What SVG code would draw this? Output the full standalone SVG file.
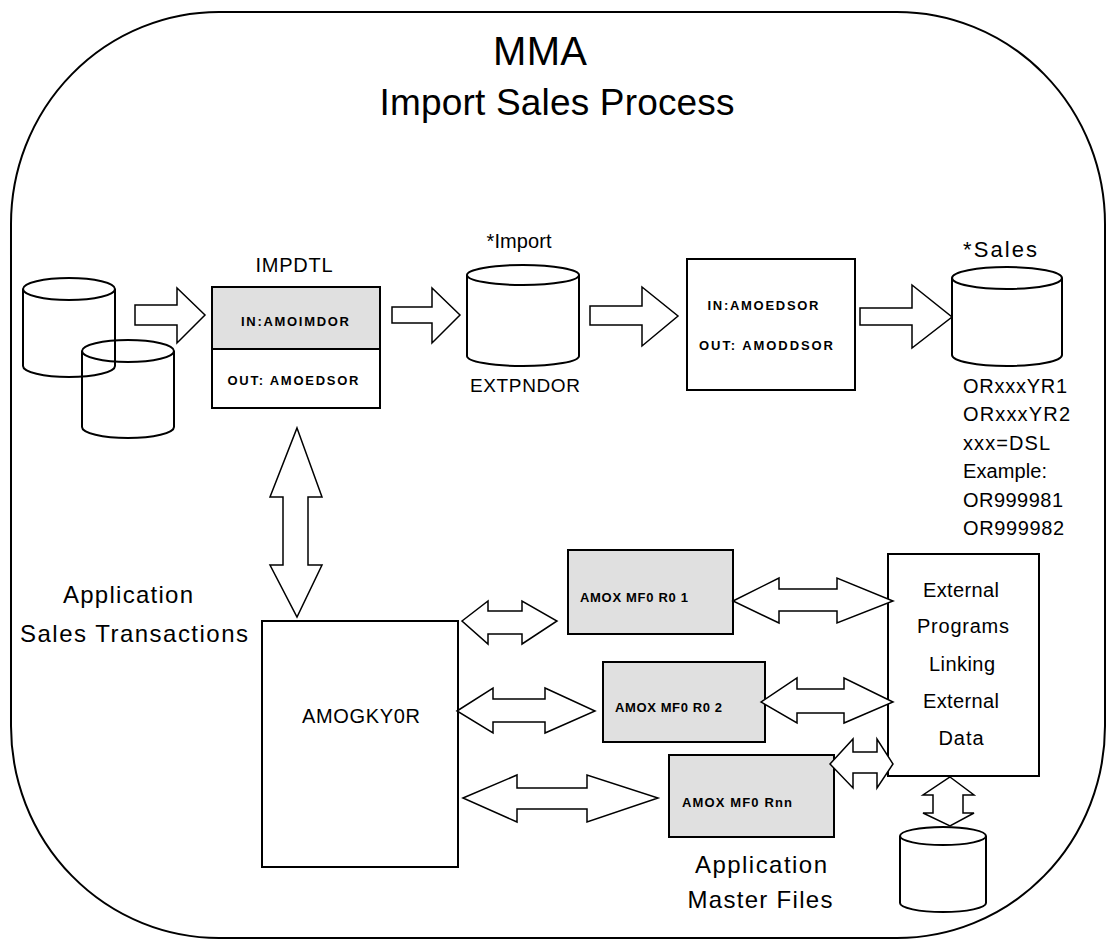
<svg xmlns="http://www.w3.org/2000/svg" width="1110" height="939" viewBox="0 0 1110 939">
<style>
text{font-family:"Liberation Sans",Arial,sans-serif;fill:#000}
.t{font-size:20px}
.big{font-size:24px}
.sm{font-size:13px;font-weight:bold}
.box{fill:#fff;stroke:#000;stroke-width:2}
.gray{fill:#e0e0e0;stroke:#000;stroke-width:2}
.cyl{fill:none;stroke:#000;stroke-width:2}
.arr{fill:#fff;stroke:#000;stroke-width:1.5;stroke-linejoin:miter}
</style>
<rect x="11" y="12" width="1094" height="926" rx="208" ry="212" fill="none" stroke="#000" stroke-width="2"/>
<g id="title">
<text x="540" y="65" font-size="40" text-anchor="middle" textLength="94">MMA</text>
<text x="557" y="115" font-size="37" text-anchor="middle" textLength="355">Import Sales Process</text>
</g>
<g id="src-cylinders">
<path class="cyl" d="M23,289 A46,11 0 0 1 115,289 A46,11 0 0 1 23,289 Z M23,289 L23,366 A46,11 0 0 0 115,366 L115,289"/>
<path class="cyl" d="M82,351 A46,11 0 0 1 174,351 A46,11 0 0 1 82,351 Z M82,351 L82,427 A46,11 0 0 0 174,427 L174,351"/>
</g>
<g id="impdtl">
<text class="t" x="294" y="272" text-anchor="middle" textLength="77">IMPDTL</text>
<rect class="gray" x="212" y="287" width="168" height="62"/>
<rect class="box" x="212" y="349" width="168" height="59"/>
<text class="sm" x="295" y="326" text-anchor="middle" textLength="108" lengthAdjust="spacing">IN:AMOIMDOR</text>
<text class="sm" x="293" y="385" text-anchor="middle" textLength="131" lengthAdjust="spacing">OUT: AMOEDSOR</text>
</g>
<g id="extpndor">
<text class="t" x="519" y="248" text-anchor="middle" textLength="65">*Import</text>
<path class="cyl" d="M467,275 A56,10 0 0 1 579,275 A56,10 0 0 1 467,275 Z M467,275 L467,356 A56,10 0 0 0 579,356 L579,275"/>
<text x="525" y="392" font-size="19" text-anchor="middle" textLength="110">EXTPNDOR</text>
</g>
<g id="convert">
<rect class="box" x="687" y="259" width="168" height="131"/>
<text class="sm" x="763" y="310" text-anchor="middle" textLength="111" lengthAdjust="spacing">IN:AMOEDSOR</text>
<text class="sm" x="766" y="350" text-anchor="middle" textLength="134" lengthAdjust="spacing">OUT: AMODDSOR</text>
</g>
<g id="sales">
<text x="1000" y="257" font-size="22" text-anchor="middle" textLength="74">*Sales</text>
<path class="cyl" d="M952,278 A55,11 0 0 1 1062,278 A55,11 0 0 1 952,278 Z M952,278 L952,355 A55,11 0 0 0 1062,355 L1062,278"/>
<g font-size="20">
<text x="963" y="393" textLength="104">ORxxxYR1</text>
<text x="963" y="421" textLength="107">ORxxxYR2</text>
<text x="963" y="450" textLength="87">xxx=DSL</text>
<text x="963" y="478" textLength="84">Example:</text>
<text x="963" y="507" textLength="100">OR999981</text>
<text x="963" y="535" textLength="101">OR999982</text>
</g>
</g>
<g id="amogky0r">
<text class="big" x="128" y="603" text-anchor="middle" textLength="130">Application</text>
<text class="big" x="134" y="642" text-anchor="middle" textLength="228">Sales Transactions</text>
<rect class="box" x="262" y="621" width="196" height="246"/>
<text class="t" x="361" y="723" text-anchor="middle" textLength="118">AMOGKY0R</text>
</g>
<g id="amox01">
<rect class="gray" x="568" y="550" width="165" height="84"/>
<text class="sm" x="580" y="602" textLength="108" lengthAdjust="spacing">AMOX MF0 R0 1</text>
</g>
<g id="amox02">
<rect class="gray" x="603" y="662" width="162" height="80"/>
<text class="sm" x="615" y="712" textLength="107" lengthAdjust="spacing">AMOX MF0 R0 2</text>
</g>
<g id="amoxnn">
<rect class="gray" x="669" y="755" width="165" height="82"/>
<text class="sm" x="682" y="807" textLength="110" lengthAdjust="spacing">AMOX MF0 Rnn</text>
<text class="big" x="761" y="873" text-anchor="middle" textLength="132">Application</text>
<text class="big" x="760" y="908" text-anchor="middle" textLength="145">Master Files</text>
</g>
<g id="external">
<rect class="box" x="888" y="554" width="151" height="222"/>
<text class="t" x="961" y="597" text-anchor="middle" textLength="76">External</text>
<text class="t" x="963" y="633" text-anchor="middle" textLength="92">Programs</text>
<text class="t" x="962" y="671" text-anchor="middle" textLength="66">Linking</text>
<text class="t" x="961" y="708" text-anchor="middle" textLength="76">External</text>
<text class="t" x="961" y="745" text-anchor="middle" textLength="45">Data</text>
</g>
<g id="ext-data">
<path class="cyl" d="M900,836 A43,9 0 0 1 986,836 A43,9 0 0 1 900,836 Z M900,836 L900,903 A43,9 0 0 0 986,903 L986,836"/>
</g>
<g id="connectors">
<polygon class="arr" points="135,305 177,305 177,288 205,315 177,343 177,325 135,325"/>
<polygon class="arr" points="392,307 432,307 432,288 460,315 432,343 432,323 392,323"/>
<polygon class="arr" points="590,306 642,306 642,287 678,316 642,346 642,325 590,325"/>
<polygon class="arr" points="860,308 912,308 912,285 952,317 912,348 912,325 860,325"/>
<polygon class="arr" points="297,428 322,497 308,497 308,565 322,565 297,617 270,565 283,565 283,497 270,497"/>
<polygon class="arr" points="462,621 488,601 488,611 522,611 522,601 557,621 522,644 522,634 488,634 488,644"/>
<polygon class="arr" points="457,711 493,688 493,699 545,699 545,688 595,711 545,733 545,722 493,722 493,733"/>
<polygon class="arr" points="463,798 517,775 517,788 587,788 587,775 658,798 587,822 587,809 517,809 517,822"/>
<polygon class="arr" points="733,601 779,578 779,589 837,589 837,578 893,601 837,623 837,611 779,611 779,623"/>
<polygon class="arr" points="761,702 797,678 797,689 844,689 844,678 893,702 844,723 844,713 797,713 797,723"/>
<polygon class="arr" points="830,764 853,739 853,752 877,752 877,739 893,764 877,788 877,773 853,773 853,788"/>
<polygon class="arr" points="950,777 974,795 963,795 963,813 974,813 950,826 923,813 933,813 933,795 923,795"/>
</g>
</svg>
